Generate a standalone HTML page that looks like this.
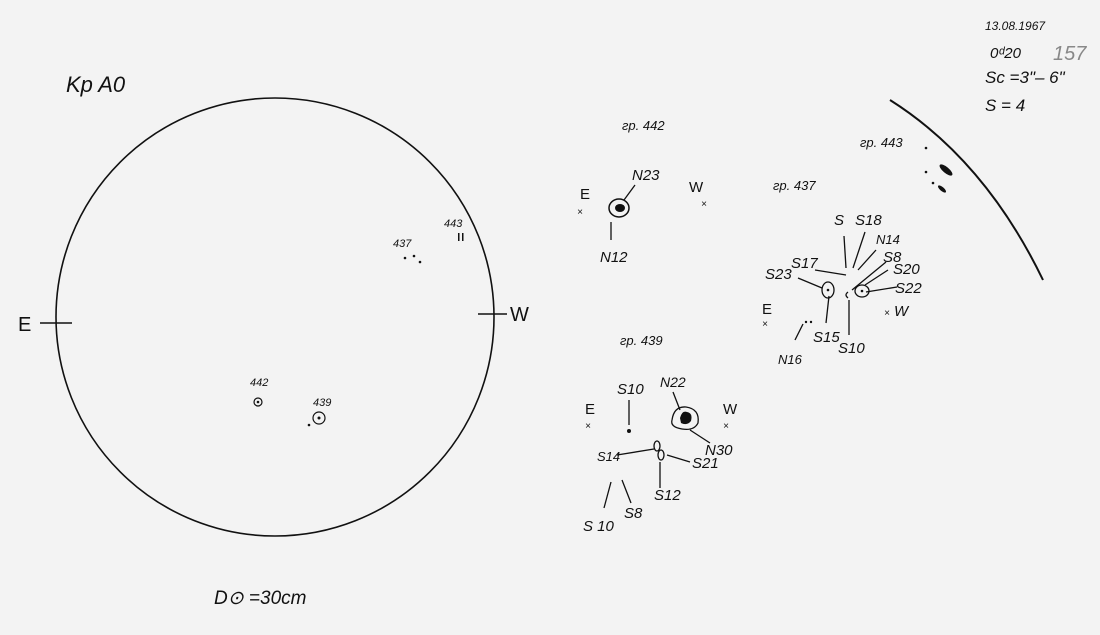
<!DOCTYPE html>
<html><head><meta charset="utf-8"><style>
html,body{margin:0;padding:0;background:#f3f3f3;}
svg{display:block}
text{font-family:"Liberation Sans",sans-serif;font-style:italic;fill:#111;}
</style></head><body>
<svg width="1100" height="635" viewBox="0 0 1100 635" xmlns="http://www.w3.org/2000/svg">
<rect width="1100" height="635" fill="#f3f3f3"/>
<g stroke="#111" fill="none" stroke-width="1.6">
<circle cx="275" cy="317" r="219"/>
<line x1="40" y1="323" x2="72" y2="323"/>
<line x1="478" y1="314" x2="507" y2="314"/>
<path d="M890,100 Q985,160 1043,280" stroke-width="2"/>
<circle cx="258" cy="402" r="4" stroke-width="1.2"/>
<circle cx="319" cy="418" r="6" stroke-width="1.2"/>
<!-- 442 -->
<line x1="635" y1="185" x2="624" y2="200" stroke-width="1.3"/>
<ellipse cx="619" cy="208" rx="10" ry="9" stroke-width="1.5"/>
<line x1="611" y1="222" x2="611" y2="240" stroke-width="1.3"/>
<!-- 437 -->
<g stroke-width="1.3">
<line x1="844" y1="236" x2="846" y2="268"/>
<line x1="865" y1="232" x2="853" y2="268"/>
<line x1="876" y1="250" x2="858" y2="270"/>
<line x1="815" y1="270" x2="846" y2="275"/>
<line x1="886" y1="262" x2="852" y2="290"/>
<line x1="888" y1="270" x2="865" y2="285"/>
<line x1="897" y1="287" x2="866" y2="292"/>
<line x1="798" y1="278" x2="822" y2="288"/>
<line x1="829" y1="296" x2="826" y2="323"/>
<line x1="849" y1="300" x2="849" y2="335"/>
<line x1="803" y1="324" x2="795" y2="340"/>
<ellipse cx="828" cy="290" rx="6" ry="8"/>
<ellipse cx="862" cy="291" rx="7" ry="6"/>
<path d="M848,292 q-4,3 0,6"/>
<!-- 439 -->
<line x1="629" y1="400" x2="629" y2="425"/>
<line x1="673" y1="392" x2="680" y2="410"/>
<path d="M672,420 q2,-14 14,-13 q14,2 12,16 q-4,8 -16,6 q-12,-2 -10,-9z"/>
<line x1="690" y1="430" x2="710" y2="443"/>
<line x1="617" y1="455" x2="654" y2="449"/>
<line x1="667" y1="455" x2="690" y2="462"/>
<line x1="660" y1="462" x2="660" y2="488"/>
<ellipse cx="657" cy="446" rx="3" ry="5"/>
<ellipse cx="661" cy="455" rx="3" ry="5"/>
<line x1="604" y1="508" x2="611" y2="482"/>
<line x1="631" y1="503" x2="622" y2="480"/>
</g>
</g>
<g fill="#111">
<ellipse cx="620" cy="208" rx="5" ry="4"/>
<path d="M680,418 q2,-8 7,-6 q6,1 4,9 q-4,5 -10,2z"/>
<circle cx="629" cy="431" r="2"/>
<circle cx="258" cy="402" r="1.3"/><circle cx="319" cy="418" r="1.5"/><circle cx="309" cy="425" r="1.3"/>
<circle cx="405" cy="258" r="1.3"/><circle cx="414" cy="256" r="1.3"/><circle cx="420" cy="262" r="1.3"/>
<rect x="458" y="233" width="1.5" height="8"/><rect x="462" y="233" width="1.5" height="8"/>
<circle cx="926" cy="148" r="1.3"/><circle cx="926" cy="172" r="1.3"/><circle cx="933" cy="183" r="1.3"/>
<ellipse cx="946" cy="170" rx="3" ry="8" transform="rotate(-50 946 170)"/>
<ellipse cx="942" cy="189" rx="2" ry="5" transform="rotate(-50 942 189)"/>
<circle cx="806" cy="322" r="1.2"/><circle cx="811" cy="322" r="1.2"/>
<circle cx="828" cy="290" r="1.3"/><circle cx="862" cy="291" r="1.3"/>
</g>
<text x="66" y="92" font-size="22">Kp A0</text>
<text x="18" y="331" font-size="20" style="font-style:normal">E</text>
<text x="510" y="321" font-size="20" style="font-style:normal">W</text>
<text x="393" y="247" font-size="11">437</text>
<text x="444" y="227" font-size="11">443</text>
<text x="250" y="386" font-size="11">442</text>
<text x="313" y="406" font-size="11">439</text>
<text x="214" y="604" font-size="19">D⊙ =30cm</text>
<text x="985" y="30" font-size="12">13.08.1967</text>
<text x="990" y="58" font-size="15">0ᵈ20</text>
<text x="1053" y="60" font-size="20" fill="#777" style="fill:#888">157</text>
<text x="985" y="83" font-size="17">Sc =3"– 6"</text>
<text x="985" y="111" font-size="17">S = 4</text>
<g font-size="13">
<text x="622" y="130">гр. 442</text>
<text x="860" y="147">гр. 443</text>
<text x="773" y="190">гр. 437</text>
<text x="620" y="345">гр. 439</text>
</g>
<g font-size="15">
<text x="580" y="199" style="font-style:normal">E</text><text x="577" y="215" font-size="10">×</text>
<text x="632" y="180">N23</text>
<text x="600" y="262">N12</text>
<text x="689" y="192" style="font-style:normal">W</text><text x="701" y="207" font-size="10">×</text>
<text x="834" y="225">S</text>
<text x="855" y="225">S18</text>
<text x="876" y="244" font-size="13">N14</text>
<text x="791" y="268">S17</text>
<text x="883" y="262">S8</text>
<text x="893" y="274">S20</text>
<text x="895" y="293">S22</text>
<text x="765" y="279">S23</text>
<text x="762" y="314" style="font-style:normal">E</text><text x="762" y="327" font-size="10">×</text>
<text x="884" y="316"><tspan font-size="10">×</tspan> W</text>
<text x="813" y="342">S15</text>
<text x="838" y="353">S10</text>
<text x="778" y="364" font-size="13">N16</text>
<text x="617" y="394">S10</text>
<text x="660" y="387" font-size="14">N22</text>
<text x="585" y="414" style="font-style:normal">E</text><text x="585" y="429" font-size="10">×</text>
<text x="723" y="414" style="font-style:normal">W</text><text x="723" y="429" font-size="10">×</text>
<text x="705" y="455">N30</text>
<text x="597" y="461" font-size="13">S14</text>
<text x="692" y="468">S21</text>
<text x="654" y="500">S12</text>
<text x="583" y="531">S 10</text>
<text x="624" y="518">S8</text>
</g>
</svg>
</body></html>
